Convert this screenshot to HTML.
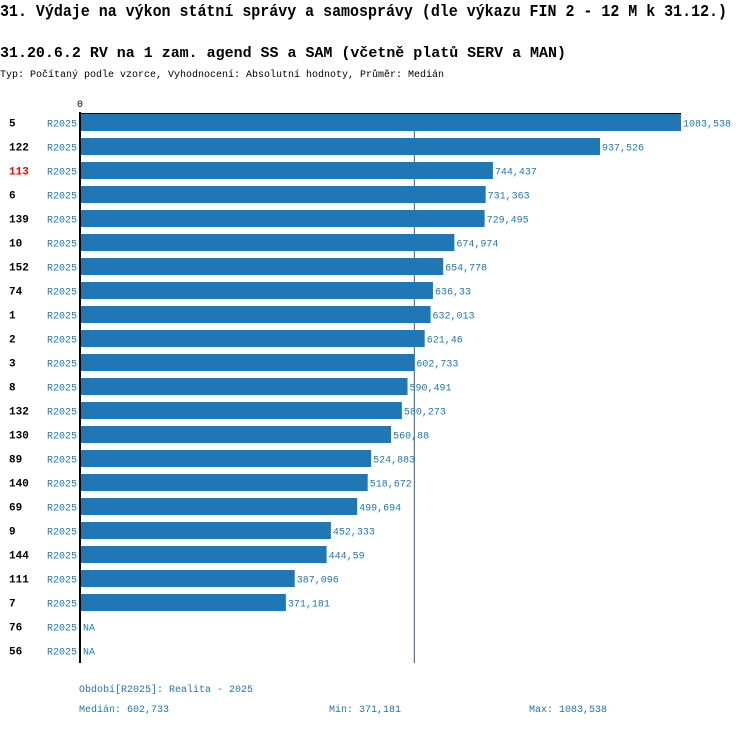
<!DOCTYPE html>
<html><head><meta charset="utf-8"><style>
body{margin:0;background:#fff;width:750px;height:726px;overflow:hidden}
text{font-family:"Liberation Mono",monospace}
</style></head><body>
<svg id="chart" width="750" height="726" xmlns="http://www.w3.org/2000/svg">
<text x="0" y="16" font-size="16.8" font-weight="bold" fill="#000" textLength="727" lengthAdjust="spacingAndGlyphs">31. Výdaje na výkon státní správy a samosprávy (dle výkazu FIN 2 - 12 M k 31.12.)</text>
<text x="0" y="57" font-size="14.7" font-weight="bold" fill="#000" textLength="566" lengthAdjust="spacingAndGlyphs">31.20.6.2 RV na 1 zam. agend SS a SAM (včetně platů SERV a MAN)</text>
<text x="0" y="77" font-size="9.7" fill="#000" textLength="444" lengthAdjust="spacingAndGlyphs">Typ: Počítaný podle vzorce, Vyhodnocení: Absolutní hodnoty, Průměr: Medián</text>
<text x="77" y="107" font-size="10" fill="#000">0</text>
<g id="bars"></g>
<text x="79" y="692" font-size="10" fill="#2077b4">Období[R2025]: Realita - 2025</text>
<text id="med" x="79" y="712" font-size="10" fill="#2077b4"></text>
<text id="min" x="329" y="712" font-size="10" fill="#2077b4"></text>
<text id="max" x="529" y="712" font-size="10" fill="#2077b4"></text>
</svg>
<script>
const categories=["5","122","113","6","139","10","152","74","1","2","3","8","132","130","89","140","69","9","144","111","7","76","56"];
const values=[1083.538,937.526,744.437,731.363,729.495,674.974,654.778,636.33,632.013,621.46,602.733,590.491,580.273,560.88,524.883,518.672,499.694,452.333,444.59,387.096,371.181,null,null];
const highlighted=["113"];
const period="R2025";
const medianValue=602.733, minValue=371.181, maxValue=1083.538;

const g=document.getElementById('bars');
const NS="http://www.w3.org/2000/svg";
const x0=80, xScale=v=>x0+v*(601/1083.538);
const rowTop=i=>114+i*24;
const fmt=v=>String(v).replace('.',',');
function mk(tag,attrs){const e=document.createElementNS(NS,tag);for(const k in attrs)e.setAttribute(k,attrs[k]);g.appendChild(e);return e;}
const bottom=rowTop(categories.length)-3;
const ml=mk('line',{x1:xScale(medianValue),x2:xScale(medianValue),y1:114,y2:bottom,stroke:'#2f5f86','stroke-width':1});


categories.forEach((c,i)=>{
  const y=rowTop(i);
  const l=mk('text',{x:9,y:y+12.5,'font-size':11,'font-weight':'bold',fill:highlighted.includes(c)?'#ff0000':'#000'});
  l.textContent=c;
  
  
  const p=mk('text',{x:47,y:y+12.5,'font-size':10,fill:'#2077b4'});
  p.textContent=period;
  
  
  const v=values[i];
  if(v!=null){
    const r=mk('rect',{x:x0,y:y,width:xScale(v)-x0,height:17,fill:'#2077b4'});
    
    
    const t=mk('text',{x:xScale(v)+2,y:y+12.5,'font-size':10,fill:'#2077b4'});
    t.textContent=fmt(v);
    
    
  } else {
    const t=mk('text',{x:x0+3,y:y+12.5,'font-size':10,fill:'#2077b4'});
    t.textContent='NA';
    
    
  }
});
const ax=mk('line',{x1:x0,x2:x0,y1:112,y2:bottom,stroke:'#000','stroke-width':2});


const tl=mk('line',{x1:x0,x2:xScale(maxValue),y1:113.5,y2:113.5,stroke:'#000','stroke-width':1});


document.getElementById('med').textContent='Medián: '+fmt(medianValue);
document.getElementById('min').textContent='Min: '+fmt(minValue);
document.getElementById('max').textContent='Max: '+fmt(maxValue);
</script>
</body></html>
